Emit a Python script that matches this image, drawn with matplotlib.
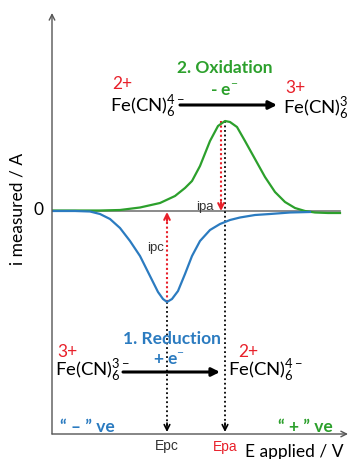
import matplotlib
matplotlib.use("Agg")
import matplotlib.pyplot as plt

plt.rcParams['font.family'] = ['Lato', 'DejaVu Sans']
plt.rcParams['mathtext.fontset'] = 'custom'
plt.rcParams['mathtext.rm'] = 'Lato'
plt.rcParams['mathtext.it'] = 'Lato:italic'
plt.rcParams['mathtext.bf'] = 'Lato:bold'

# curves (arbitrary units: E to the right, i up)
ox_E = [0, 48, 68, 88, 108, 123, 133, 140, 148, 158, 166, 173, 178, 185, 193,
        203, 213, 223, 233, 243, 253, 263, 276, 288]
ox_i = [0.5, 0.5, 1, 3.5, 8, 15, 23, 30, 45, 70, 85, 90, 89, 84, 70,
        52, 34, 19, 9, 3, 0, -1.5, -2, -2]

red_E = [0, 23, 38, 48, 58, 68, 78, 88, 98, 106, 111, 115, 120, 126, 133,
         140, 148, 158, 168, 178, 188, 203, 218, 238, 258]
red_i = [0, 0, -0.5, -3, -8, -17, -30, -45, -65, -81, -88, -91, -88, -80, -63,
         -45, -30, -19, -13, -9, -6.5, -4, -3, -1.5, -1]

Epc, ipc = 115, -91
Epa, ipa = 173, 90
ipa_E = 169

GREEN = '#2ca02c'
BLUE = '#2b7bc0'
RED = '#e8202a'
GRAY = '#555555'

fig = plt.figure(figsize=(3.49, 4.60), dpi=100)
ax = fig.add_axes([52 / 349, 25 / 460, 293 / 349, 421 / 460])
ax.set_xlim(0, 293)
ax.set_ylim(-223, 198)
ax.axis('off')

# axes with arrows
ax.annotate('', xy=(0, 198), xytext=(0, -223),
            arrowprops=dict(arrowstyle='->', color=GRAY, lw=1, shrinkA=0, shrinkB=0),
            annotation_clip=False)
ax.annotate('', xy=(296, -223), xytext=(0, -223),
            arrowprops=dict(arrowstyle='->', color=GRAY, lw=1, shrinkA=0, shrinkB=0),
            annotation_clip=False)
ax.plot([0, 288], [0, 0], color='#777777', lw=1.2)

# dotted guides down to the E axis
for e, top in [(Epc, ipc), (Epa, ipa)]:
    ax.plot([e, e], [top, -220], color='black', lw=1.3, ls=(0, (1, 1.5)))
    ax.annotate('', xy=(e, -221), xytext=(e, -212),
                arrowprops=dict(arrowstyle='->', color='black', lw=1.2,
                                shrinkA=0, shrinkB=0))

# peak currents
ax.plot([Epc, Epc], [ipc, -3], color=RED, lw=1.5, ls=(0, (1, 1.2)))
ax.annotate('', xy=(Epc, -1), xytext=(Epc, -10),
            arrowprops=dict(arrowstyle='->', color=RED, lw=1.5, shrinkA=0, shrinkB=0))
ax.plot([ipa_E, ipa_E], [ipa, 3], color=RED, lw=1.5, ls=(0, (1, 1.2)))
ax.annotate('', xy=(ipa_E, 0), xytext=(ipa_E, 9),
            arrowprops=dict(arrowstyle='->', color=RED, lw=1.5, shrinkA=0, shrinkB=0))

ax.plot(ox_E, ox_i, color=GREEN, lw=1.6)
ax.plot(red_E, red_i, color=BLUE, lw=1.6)

# reaction arrows
ax.annotate('', xy=(225, 106), xytext=(128, 106),
            arrowprops=dict(arrowstyle='-|>', color='black', lw=2.2,
                            mutation_scale=12, shrinkA=0, shrinkB=0))
ax.annotate('', xy=(168, -161), xytext=(71, -161),
            arrowprops=dict(arrowstyle='-|>', color='black', lw=2.2,
                            mutation_scale=12, shrinkA=0, shrinkB=0))

fs = 12.5
ffe = 13.3
kw = dict(clip_on=False)
ax.text(70, 128, '2+', color=RED, fontsize=fs, ha='center', va='center', **kw)
ax.text(58, 99, r'Fe(CN)$_6^{4-}$', fontsize=ffe, ha='left', va='baseline', **kw)
ax.text(173, 144, '2. Oxidation', color=GREEN, fontsize=fs, fontweight='bold',
        ha='center', va='center', **kw)
ax.text(172, 121, r'- e$^{-}$', color=GREEN, fontsize=fs, fontweight='bold',
        ha='center', va='center', **kw)
ax.text(243, 124, '3+', color=RED, fontsize=fs, ha='center', va='center', **kw)
ax.text(231, 97, r'Fe(CN)$_6^{3-}$', fontsize=ffe, ha='left', va='baseline', **kw)

ax.text(120, -127, '1. Reduction', color=BLUE, fontsize=fs, fontweight='bold',
        ha='center', va='center', **kw)
ax.text(117, -148, r'+ e$^{-}$', color=BLUE, fontsize=fs, fontweight='bold',
        ha='center', va='center', **kw)
ax.text(15, -140, '3+', color=RED, fontsize=fs, ha='center', va='center', **kw)
ax.text(3, -165, r'Fe(CN)$_6^{3-}$', fontsize=ffe, ha='left', va='baseline', **kw)
ax.text(196, -140, '2+', color=RED, fontsize=fs, ha='center', va='center', **kw)
ax.text(176, -165, r'Fe(CN)$_6^{4-}$', fontsize=ffe, ha='left', va='baseline', **kw)

ax.text(8, -215, '\u201c \u2013 \u201d ve', color=BLUE, fontsize=fs, fontweight='bold',
        ha='left', va='center', **kw)
ax.text(281, -215, '\u201c + \u201d ve', color=GREEN, fontsize=fs, fontweight='bold',
        ha='right', va='center', **kw)

ax.text(Epc, -234, 'Epc', fontsize=10, family='Liberation Sans', color='#333333',
        ha='center', va='center', **kw)
ax.text(Epa, -235, 'Epa', fontsize=10, family='Liberation Sans', color=RED,
        ha='center', va='center', **kw)
ax.text(242, -240, 'E applied / V', fontsize=fs, ha='center', va='center', **kw)
ax.text(-34, 3, 'i measured / A', fontsize=fs, rotation=90,
        ha='center', va='center', **kw)
ax.text(-13, 2, '0', fontsize=fs, ha='center', va='center', **kw)
ax.text(104, -36, 'ipc', fontsize=9.5, family='Liberation Sans', color='#333333',
        ha='center', va='center', **kw)
ax.text(153, 5, 'ipa', fontsize=9.5, family='Liberation Sans', color='#333333',
        ha='center', va='center', **kw)

fig.savefig('out.png', dpi=100)
